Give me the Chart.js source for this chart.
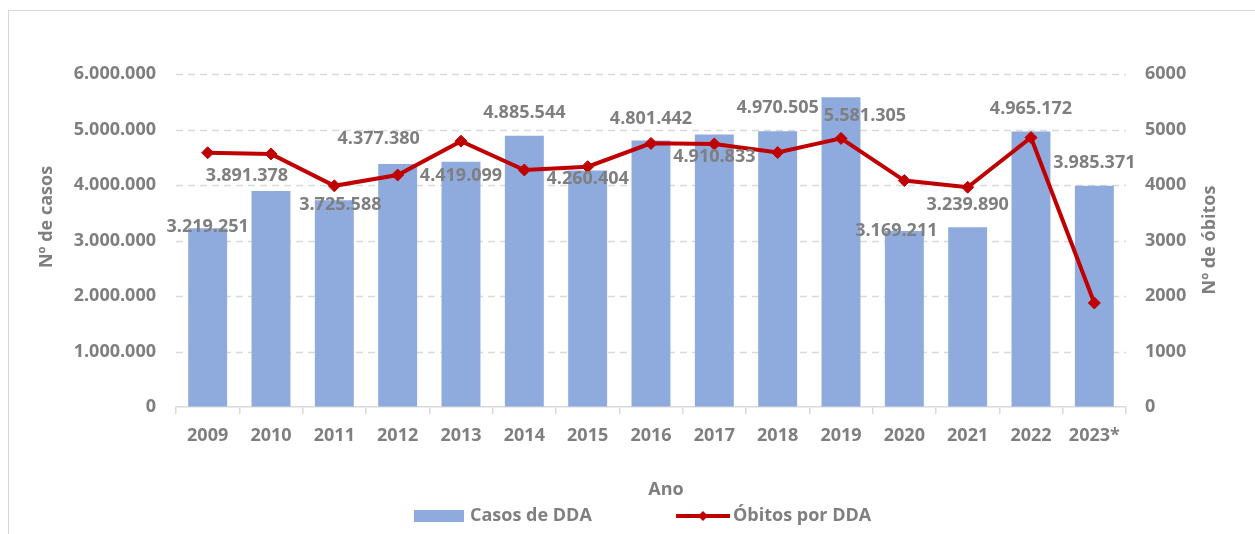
<!DOCTYPE html>
<html>
<head>
<meta charset="utf-8">
<title>Casos e óbitos por DDA</title>
<script src="https://cdn.jsdelivr.net/npm/chart.js@4.4.0/dist/chart.umd.min.js"></script>
<style>
    html, body { margin: 0; padding: 0; background: #fff; overflow: hidden; }
    #frame { position: absolute; left: 8px; top: 10px; width: 1400px; height: 700px; border: 1.5px solid #d9d9d9; }
    #wrap { position: absolute; left: 0; top: 0; width: 1255px; height: 534px; }
</style>
</head>
<body>
<div id="frame"></div>
<div id="wrap"><canvas id="chart" width="1255" height="534"></canvas></div>

<script>
// Values
const years = ['2009', '2010', '2011', '2012', '2013', '2014', '2015', '2016', '2017', '2018', '2019', '2020', '2021', '2022', '2023*'];
const casos = [3219251, 3891378, 3725588, 4377380, 4419099, 4885544, 4260404, 4801442, 4910833, 4970505, 5581305, 3169211, 3239890, 4965172, 3985371];
const obitos = [4580, 4560, 3985, 4180, 4790, 4270, 4330, 4750, 4740, 4585, 4840, 4080, 3960, 4855, 1875];

// Manual nudges of the bar value labels (px, relative to bar top), like the source chart
const labelNudgeX = [0, -24, 6, -19, 0, 0, 0, 0, 0, 0, 24, -8, 0, 0, 0];
const labelNudgeY = [-1, -15, 5, -25, 14, -23, 8, -22, 22, -23, 19, 0, -22, -23, -23];

const GRAY = '#7f7f7f';
const GRID = '#d9d9d9';
const BAR = '#8faadc';
const RED = '#c00000';
const FONT = { family: "'Open Sans', 'Liberation Sans', sans-serif", size: 18, weight: 'bold' };
const fontCss = `bold ${FONT.size}px ${FONT.family}`;

const fmt = v => String(v).replace(/\B(?=(\d{3})+(?!\d))/g, '.');

// dashed horizontal gridlines, taken from the left axis ticks
const dashedGrid = {
    id: 'dashedGrid',
    beforeDatasetsDraw(chart) {
        const ctx = chart.ctx;
        const y = chart.scales.y;
        const area = chart.chartArea;
        ctx.save();
        ctx.strokeStyle = GRID;
        ctx.lineWidth = 1.3;
        ctx.setLineDash([7, 5]);
        y.ticks.forEach(t => {
            if (t.value === 0) return;
            const py = Math.round(y.getPixelForValue(t.value)) + 0.5;
            ctx.beginPath();
            ctx.moveTo(area.left, py);
            ctx.lineTo(area.right, py);
            ctx.stroke();
        });
        ctx.restore();
    }
};

// Value labels, axis titles and legend drawn on the canvas
const chartTexts = {
    id: 'chartTexts',
    afterDatasetsDraw(chart) {
        const ctx = chart.ctx;
        const meta = chart.getDatasetMeta(1);
        ctx.save();
        ctx.font = fontCss;
        ctx.fillStyle = GRAY;
        ctx.textAlign = 'center';
        ctx.textBaseline = 'middle';
        meta.data.forEach((bar, i) => {
            ctx.fillText(fmt(casos[i]), bar.x + labelNudgeX[i], bar.y + labelNudgeY[i]);
        });
        ctx.restore();
    },
    afterDraw(chart) {
        const ctx = chart.ctx;
        const area = chart.chartArea;
        ctx.save();
        ctx.font = fontCss;
        ctx.fillStyle = GRAY;
        ctx.textBaseline = 'middle';
        ctx.textAlign = 'center';

        // axis titles
        ctx.fillText('Ano', area.left + (area.right - area.left) / 2 + 15, 490);
        [['Nº de casos', 47, 217], ['Nº de óbitos', 1210, 240]].forEach(([t, x, y]) => {
            ctx.save();
            ctx.translate(x, y);
            ctx.rotate(-Math.PI / 2);
            ctx.fillText(t, 0, 0);
            ctx.restore();
        });

        // legend
        const ly = 516;
        ctx.textAlign = 'left';
        ctx.fillStyle = BAR;
        ctx.fillRect(414, ly - 6, 50, 12);
        ctx.fillStyle = GRAY;
        ctx.fillText('Casos de DDA', 470, ly);

        ctx.strokeStyle = RED;
        ctx.lineWidth = 4;
        ctx.beginPath();
        ctx.moveTo(676, ly);
        ctx.lineTo(730, ly);
        ctx.stroke();
        ctx.fillStyle = RED;
        ctx.beginPath();
        ctx.moveTo(703 - 5, ly);
        ctx.lineTo(703, ly - 5);
        ctx.lineTo(703 + 5, ly);
        ctx.lineTo(703, ly + 5);
        ctx.closePath();
        ctx.fill();
        ctx.fillStyle = GRAY;
        ctx.fillText('Óbitos por DDA', 733, ly);
        ctx.restore();
    }
};

new Chart(document.getElementById('chart'), {
    type: 'bar',
    data: {
        labels: years,
        datasets: [{
            type: 'line',
            label: 'Óbitos por DDA',
            data: obitos,
            yAxisID: 'y1',
            borderColor: RED,
            backgroundColor: RED,
            borderWidth: 4,
            tension: 0,
            pointStyle: 'rectRot',
            pointRadius: 6,
            pointBorderWidth: 1,
            pointBackgroundColor: RED,
            pointBorderColor: RED,
            order: 0
        }, {
            type: 'bar',
            label: 'Casos de DDA',
            data: casos,
            yAxisID: 'y',
            backgroundColor: BAR,
            barPercentage: 0.615,
            categoryPercentage: 1.0,
            order: 1
        }]
    },
    options: {
        responsive: false,
        animation: false,
        layout: { padding: { top: 74, left: 0, right: 0, bottom: 0 } },
        plugins: {
            legend: { display: false },
            tooltip: { enabled: false }
        },
        scales: {
            x: {
                offset: true,
                grid: { offset: true, drawOnChartArea: false, drawTicks: true, tickLength: 7, color: GRID, lineWidth: 1.5 },
                border: { display: true, color: GRID, width: 1.5 },
                ticks: { font: FONT, color: GRAY, padding: 11, maxRotation: 0 },
                afterFit: s => { s.height = 127; }
            },
            y: {
                position: 'left',
                min: 0,
                max: 6000000,
                ticks: { stepSize: 1000000, font: FONT, color: GRAY, padding: 20, callback: v => fmt(v) },
                grid: { drawOnChartArea: false, drawTicks: false },
                border: { display: false },
                afterFit: s => { s.width = 176; }
            },
            y1: {
                position: 'right',
                min: 0,
                max: 6000,
                ticks: { stepSize: 1000, font: FONT, color: GRAY, padding: 19, callback: v => String(v) },
                grid: { drawOnChartArea: false, drawTicks: false },
                border: { display: false },
                afterFit: s => { s.width = 129; }
            }
        }
    },
    plugins: [dashedGrid, chartTexts]
});
</script>
</body>
</html>
